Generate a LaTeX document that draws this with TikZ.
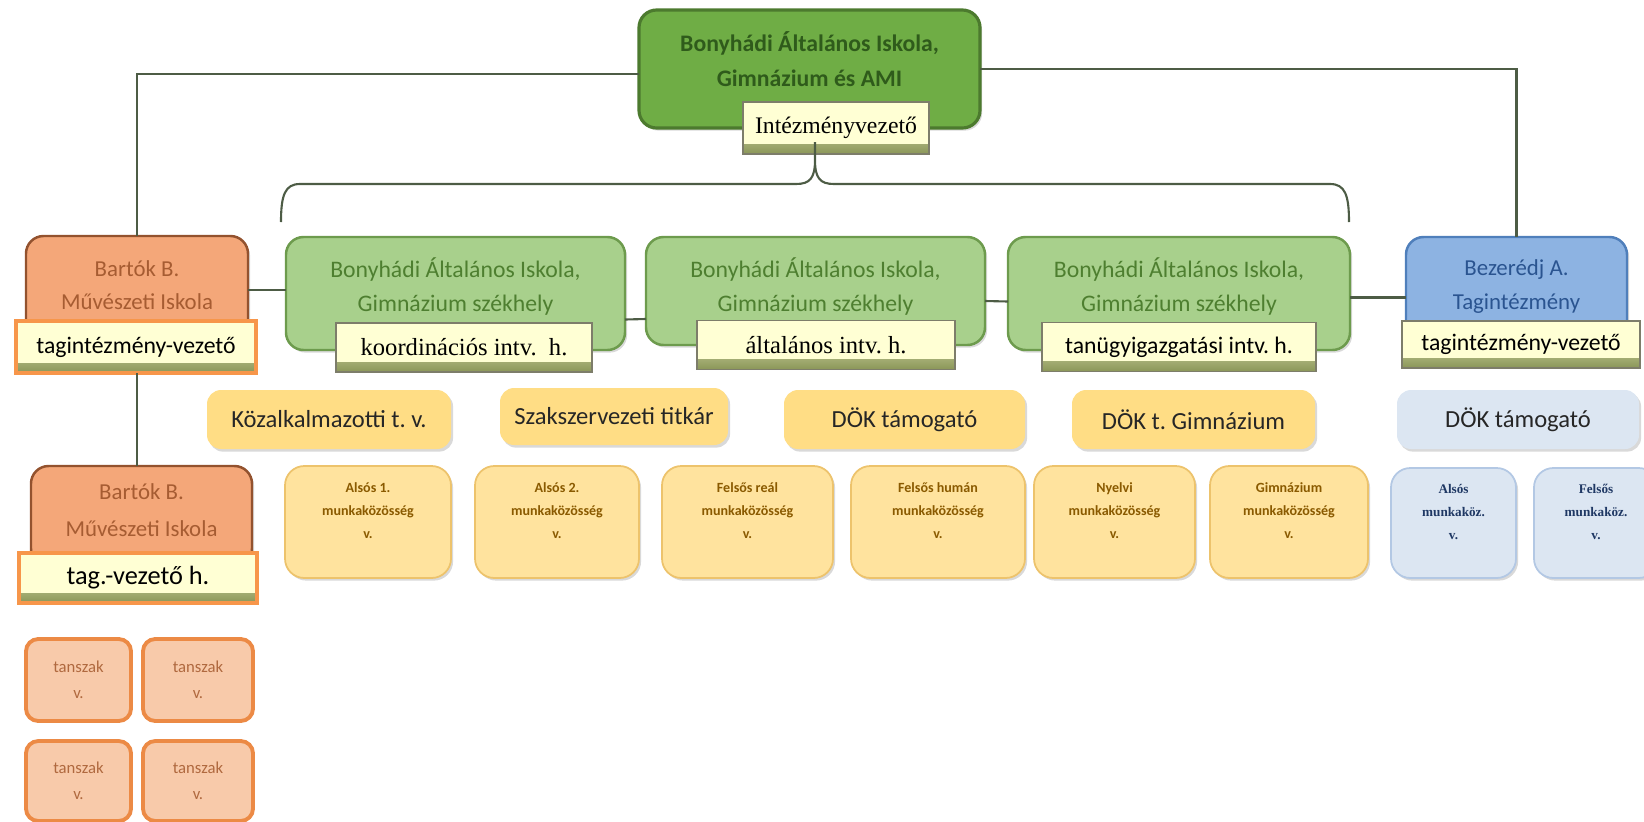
\documentclass[tikz,border=0pt]{standalone}
\usepackage{fontspec}
\setmainfont{Carlito}
\newfontfamily\cambria{Liberation Serif}
\usetikzlibrary{calc,shadows}
\frenchspacing

\definecolor{linegray}{HTML}{4D5C45}
\definecolor{amifill}{HTML}{6FAD45}
\definecolor{amidraw}{HTML}{4C7A2E}
\definecolor{amitext}{HTML}{2F5B1B}
\definecolor{szekfill}{HTML}{A8D08C}
\definecolor{szekdraw}{HTML}{6D9B4D}
\definecolor{szektext}{HTML}{4E7F30}
\definecolor{subfill}{HTML}{FFFFD4}
\definecolor{subband}{HTML}{8A9658}
\definecolor{subdraw}{HTML}{7D7D6A}
\definecolor{bartokfill}{HTML}{F4A779}
\definecolor{bartokdraw}{HTML}{93522E}
\definecolor{bartoktext}{HTML}{A65C32}
\definecolor{glow}{HTML}{F7964A}
\definecolor{bezfill}{HTML}{8DB3E2}
\definecolor{bezdraw}{HTML}{4F7FBB}
\definecolor{beztext}{HTML}{2A5490}
\definecolor{yelfill}{HTML}{FFDD85}
\definecolor{munkafill}{HTML}{FFE39E}
\definecolor{munkadraw}{HTML}{EDC36C}
\definecolor{munkatext}{HTML}{8A5A00}
\definecolor{kekfill}{HTML}{DCE6F2}
\definecolor{kekdraw}{HTML}{B3C8E4}
\definecolor{kektext}{HTML}{1F3864}
\definecolor{tanfill}{HTML}{F8CAAA}
\definecolor{tandraw}{HTML}{EC8A45}
\definecolor{tantext}{HTML}{B0693F}

\begin{document}
\begin{tikzpicture}
[x=0.02cm,y=-0.02cm,inner sep=0pt,outer sep=0pt,
wh/.style 2 args={minimum width=#1*0.02cm, minimum height=#2*0.02cm},
conn/.style={draw=linegray, line width=1.2pt},
shadowed/.style={drop shadow={opacity=0.3, shadow xshift=1.2pt, shadow yshift=-1.5pt}},
head/.style={anchor=north, align=center},
amibox/.style={rounded corners=10pt, fill=amifill, draw=amidraw, line width=1.8pt, shadowed},
szekbox/.style={rounded corners=10pt, fill=szekfill, draw=szekdraw, line width=1.4pt, shadowed},
bartokbox/.style={rounded corners=10pt, fill=bartokfill, draw=bartokdraw, line width=1.4pt, shadowed},
bezbox/.style={rounded corners=10pt, fill=bezfill, draw=bezdraw, line width=1.4pt, shadowed},
sub/.style={fill=subfill, draw=subdraw, line width=0.6pt, text=black,
  path picture={\shade[top color=subfill, bottom color=subband]
    ($(path picture bounding box.south west)+(0,-10)$) rectangle (path picture bounding box.south east);}},
subserif/.style={sub, font=\cambria\fontsize{14}{16}\selectfont},
subsans/.style={sub, font=\fontsize{13.5}{16}\selectfont},
glowsub/.style={subsans, draw=glow, line width=2.4pt},
role/.style={rounded corners=8pt, fill=yelfill, text=black!85, font=\fontsize{14}{16}\selectfont, shadowed},
munka/.style={rounded corners=11pt, fill=munkafill, draw=munkadraw, line width=1pt, align=center,
  text=munkatext, font=\bfseries\fontsize{8}{13}\selectfont, shadowed},
kek/.style={rounded corners=11pt, fill=kekfill, draw=kekdraw, line width=1pt, align=center,
  text=kektext, font=\cambria\bfseries\fontsize{7.5}{13}\selectfont, shadowed},
tanszak/.style={rounded corners=7pt, fill=tanfill, draw=tandraw, line width=2.2pt, align=center,
  text=tantext, font=\fontsize{9.5}{15}\selectfont}]

\useasboundingbox (0,0) rectangle (1644,822);

% top level
\node[amibox, wh={341}{118}, label={[head, yshift=-12pt, text=amitext, font=\bfseries\fontsize{13.5}{20}\selectfont]north:{Bonyhádi Általános Iskola,\\Gimnázium és AMI}}] (ami) at (809.5,69) {};
\node[subserif, font=\cambria\fontsize{13.5}{16}\selectfont, wh={186}{52}] (intv) at (836,128) {Intézményvezető};

% second level
\node[bartokbox, wh={222}{108}, label={[head, yshift=-14pt, text=bartoktext, font=\fontsize{13}{19}\selectfont]north:{Bartók B.\\Művészeti Iskola}}] (bartok) at (137,290) {};
\node[glowsub, wh={240}{52}] (bartokv) at (136,347) {tagintézmény-vezető};

\node[szekbox, wh={339}{113}, label={[head, yshift=-12pt, text=szektext, font=\fontsize{13.5}{19}\selectfont]north:{Bonyhádi Általános Iskola,\\Gimnázium székhely}}] (szek1) at (455.5,293.5) {};
\node[subserif, wh={256}{49}] (szek1v) at (464,347.5) {koordinációs intv.~ h.};

\node[szekbox, wh={339}{108}, label={[head, yshift=-12pt, text=szektext, font=\fontsize{13.5}{19}\selectfont]north:{Bonyhádi Általános Iskola,\\Gimnázium székhely}}] (szek2) at (815.5,291) {};
\node[subserif, wh={258}{49}] (szek2v) at (826,345) {általános intv. h.};

\node[szekbox, wh={342}{113}, label={[head, yshift=-12pt, text=szektext, font=\fontsize{13.5}{19}\selectfont]north:{Bonyhádi Általános Iskola,\\Gimnázium székhely}}] (szek3) at (1179,293.5) {};
\node[subsans, wh={274}{49}] (szek3v) at (1179,347) {tanügyigazgatási intv. h.};

\node[bezbox, wh={221}{109}, label={[head, yshift=-13pt, text=beztext, font=\fontsize{13}{19}\selectfont]north:{Bezerédj A.\\Tagintézmény}}] (bez) at (1516.5,291.5) {};
\node[subsans, wh={238}{47}] (bezv) at (1521,344.5) {tagintézmény-vezető};

% roles
\node[role, wh={244}{59}] (kozalk) at (329,419.5) {Közalkalmazotti t. v.};
\node[role, wh={228}{57}] (szaksz) at (614,416.5) {Szakszervezeti titkár};
\node[role, wh={241}{59}] (dok) at (904.5,419.5) {DÖK támogató};
\node[role, wh={243}{59}] (dokgim) at (1193.5,419.5) {DÖK t. Gimnázium};
\node[role, fill=kekfill, wh={242}{59}] (dokbez) at (1518,419.5) {DÖK támogató};

% munkakozossegek
\node[munka, wh={166}{112}] (also1) at (368,522) {Alsós 1.\\munkaközösség\\v.\\\mbox{}};
\node[munka, wh={164}{112}] (also2) at (557,522) {Alsós 2.\\munkaközösség\\v.\\\mbox{}};
\node[munka, wh={171}{112}] (felreal) at (747.5,522) {Felsős reál\\munkaközösség\\v.\\\mbox{}};
\node[munka, wh={174}{112}] (felhum) at (938,522) {Felsős humán\\munkaközösség\\v.\\\mbox{}};
\node[munka, wh={161}{112}] (nyelvi) at (1114.5,522) {Nyelvi\\munkaközösség\\v.\\\mbox{}};
\node[munka, wh={158}{112}] (gimn) at (1289,522) {Gimnázium\\munkaközösség\\v.\\\mbox{}};
\node[kek, wh={125}{110}] (alsom) at (1453.5,523) {Alsós\\munkaköz.\\v.\\\mbox{}};
\node[kek, wh={124}{110}] (felsm) at (1596,523) {Felsős\\munkaköz.\\v.\\\mbox{}};

% Bartok tagintezmeny
\node[bartokbox, wh={221}{100}, label={[head, yshift=-10pt, text=bartoktext, font=\fontsize{13}{21}\selectfont]north:{Bartók B.\\Művészeti Iskola}}] (bartok2) at (141.5,516) {};
\node[glowsub, font=\fontsize{15}{17}\selectfont, wh={238}{50}] (bartok2v) at (138,578) {tag.-vezető h.};

\node[tanszak, wh={105}{82}] (tan1) at (78.5,680) {tanszak\\v.};
\node[tanszak, wh={110}{82}] (tan2) at (198,680) {tanszak\\v.};
\node[tanszak, wh={105}{80}] (tan3) at (78.5,781) {tanszak\\v.};
\node[tanszak, wh={110}{80}] (tan4) at (198,781) {tanszak\\v.};

% connectors
\draw[conn] ([yshift=-3pt]ami.west) -| (bartok.north);
\draw[conn] (ami.east) -| (bez.north);
\draw[conn] (bartokv.south -| bartok.north) -- (bartok2.north -| bartok.north);
\draw[conn] (bartok.east) -- (bartok.east -| szek1.west);
\draw[conn] ($(szek1.east)+(0,26)$) -- ($(szek2.west)+(0,28)$);
\draw[conn] ($(szek2.east)+(0,10)$) -- ($(szek3.west)+(0,8)$);
\draw[conn] ($(szek3.east)+(0,4)$) -- ($(bez.west)+(0,6)$);

% brace under the leader
\coordinate (braceL) at (281,222);
\coordinate (braceR) at (1349,222);
\coordinate (tip) at (815,142);
\draw[conn] (braceL) .. controls (281,195) and (285,184) .. (300,184) -- (796,184)
  .. controls (810,184) and (815,178) .. (815,160) -- (tip)
  (815,160) .. controls (815,178) and (820,184) .. (834,184) -- (1330,184)
  .. controls (1345,184) and (1349,195) .. (braceR);
\end{tikzpicture}
\end{document}
